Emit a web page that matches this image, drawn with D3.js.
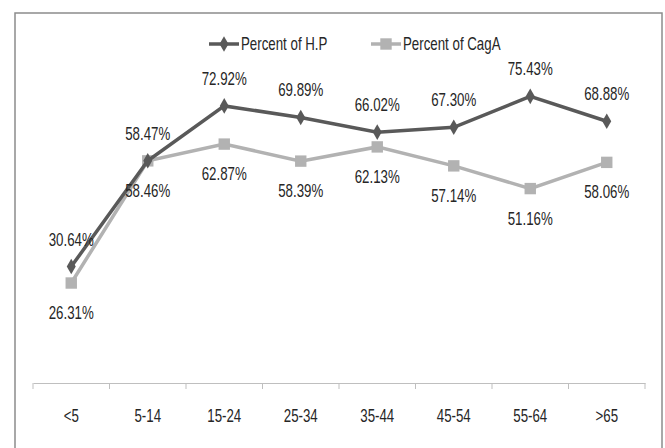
<!DOCTYPE html>
<html>
<head>
<meta charset="utf-8">
<script src="https://cdn.jsdelivr.net/npm/d3@7"></script>
<style>
  body { margin: 0; background: #fff; }
  text { font-family: 'Liberation Sans', Arial, sans-serif; fill: #262626; }
</style>
</head>
<body>
<div id="chart"></div>
<script>
const ageGroups = ['<5', '5-14', '15-24', '25-34', '35-44', '45-54', '55-64', '>65']
const hpValues = [30.64, 58.47, 72.92, 69.89, 66.02, 67.30, 75.43, 68.88]
const cagaValues = [26.31, 58.46, 62.87, 58.39, 62.13, 57.14, 51.16, 58.06]
const seriesNames = ['Percent of H.P', 'Percent of CagA']

const width = 665
const height = 448
const fontSize = 17.5
const squeeze = 0.76 // the original text is tall and narrow

const svg = d3.select('#chart')
  .append('svg')
  .attr('width', width)
  .attr('height', height)

// outer frame (bottom edge is cut off in the original)
svg.append('rect')
  .attr('x', 15)
  .attr('y', 13)
  .attr('width', 647)
  .attr('height', 460)
  .attr('fill', 'none')
  .attr('stroke', '#8c8c8c')
  .attr('stroke-width', 1.5)

const x = d3.scaleBand().domain(ageGroups).range([33, 645])
const y = d3.scaleLinear().domain([0, 100]).range([383, 3])

const xAxis = d3.axisBottom(x).tickSize(0).tickPadding(0)

const gx = svg.append('g')
  .attr('class', 'axis x-axis')
  .attr('transform', 'translate(0,383)')
  .call(xAxis)

gx.select('.domain').attr('stroke', '#bfbfbf').attr('stroke-width', 1)
gx.selectAll('.tick text')
  .attr('y', 0)
  .attr('dy', 0)
  .attr('transform', `translate(0,39) scale(${squeeze},1)`)
  .attr('font-size', fontSize)
  .attr('fill', '#262626')
  .style('font-family', "'Liberation Sans', Arial, sans-serif")

// tick marks between categories
const edges = ageGroups.map(d => x(d)).concat([x.range()[1]])
gx.selectAll('.edge')
  .data(edges)
  .enter()
  .append('line')
  .attr('class', 'edge')
  .attr('x1', d => d)
  .attr('x2', d => d)
  .attr('y1', 0)
  .attr('y2', 6)
  .attr('stroke', '#bfbfbf')

const cx = d => x(d) + x.bandwidth() / 2

const series = [
  { name: seriesNames[0], values: hpValues, color: '#595959', marker: 'diamond', labelDy: -21 },
  { name: seriesNames[1], values: cagaValues, color: '#b2b2b2', marker: 'square', labelDy: 36 }
]

const line = d3.line()
  .x(d => cx(d.group))
  .y(d => y(d.value))

const diamond = d3.symbol().type(d3.symbolDiamond).size(70)
const square = d3.symbol().type(d3.symbolSquare).size(130)

// draw CagA first so H.P lies on top
series.slice().reverse().forEach(s => {
  const pts = ageGroups.map((g, i) => ({ group: g, value: s.values[i] }))

  svg.append('path')
    .datum(pts)
    .attr('fill', 'none')
    .attr('stroke', s.color)
    .attr('stroke-width', 3.5)
    .attr('d', line)

  svg.selectAll('.m-' + s.marker)
    .data(pts)
    .enter()
    .append('path')
    .attr('class', 'm-' + s.marker)
    .attr('transform', d => `translate(${cx(d.group)},${y(d.value)})`)
    .attr('d', s.marker === 'diamond' ? diamond : square)
    .attr('fill', s.color)
})

series.forEach(s => {
  svg.selectAll('.lbl-' + s.marker)
    .data(ageGroups.map((g, i) => ({ group: g, value: s.values[i] })))
    .enter()
    .append('text')
    .attr('class', 'lbl-' + s.marker)
    .attr('transform', d => `translate(${cx(d.group)},${y(d.value) + s.labelDy}) scale(${squeeze},1)`)
    .attr('text-anchor', 'middle')
    .attr('font-size', fontSize)
    .text(d => d.value.toFixed(2) + '%')
})

// legend
const legendItems = [
  { s: series[0], x0: 209 },
  { s: series[1], x0: 371 }
]
legendItems.forEach(item => {
  const g = svg.append('g').attr('transform', `translate(${item.x0},44)`)
  g.append('line')
    .attr('x1', 0).attr('x2', 30)
    .attr('stroke', item.s.color)
    .attr('stroke-width', 3.5)
  g.append('path')
    .attr('transform', 'translate(15,0)')
    .attr('d', item.s.marker === 'diamond' ? diamond : square)
    .attr('fill', item.s.color)
  g.append('text')
    .attr('transform', `translate(32,6) scale(${squeeze},1)`)
    .attr('font-size', fontSize)
    .text(item.s.name)
})
</script>
</body>
</html>
